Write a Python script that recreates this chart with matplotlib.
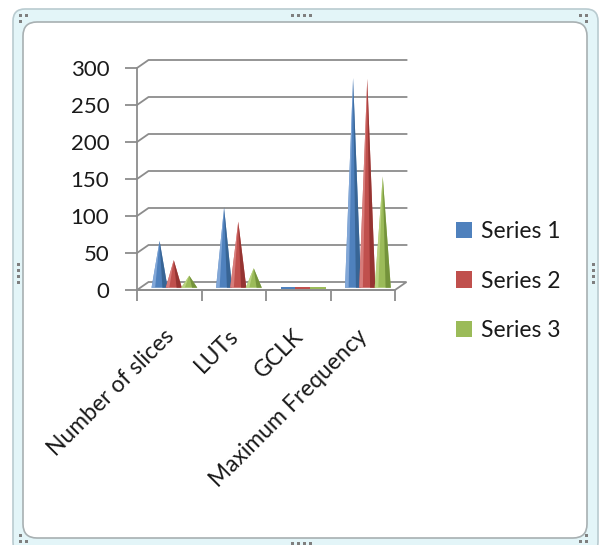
import matplotlib
matplotlib.use("Agg")
import matplotlib.pyplot as plt
from matplotlib.patches import FancyBboxPatch, Polygon, Patch
import numpy as np

plt.rcParams['font.family'] = ['Lato', 'DejaVu Sans']

categories = ["Number of slices", "LUTs", "GCLK", "Maximum Frequency"]
series_names = ["Series 1", "Series 2", "Series 3"]
series1 = [61, 106, 2, 281]
series2 = [35, 87, 2, 280]
series3 = [14, 24, 2, 148]
yticks = [0, 50, 100, 150, 200, 250, 300]

values = [series1, series2, series3]
colors = ["#4F81BD", "#C0504D", "#9BBB59"]
light = ["#8FB1DE", "#DE8886", "#C3DA8C"]
dark = ["#35608F", "#8E302E", "#6E8C36"]

W, H = 603, 545
fig = plt.figure(figsize=(W / 100, H / 100), dpi=100)

# decorative frame (figure pixel coordinates)
bg = fig.add_axes([0, 0, 1, 1])
bg.set_xlim(0, W)
bg.set_ylim(H, 0)
bg.axis("off")
bg.add_patch(FancyBboxPatch((13, 9), 585, 545, boxstyle="round,pad=0,rounding_size=12",
                            fc="#E3F5F8", ec="#B9CBD0", lw=1.2))
bg.add_patch(FancyBboxPatch((23, 22), 564, 516, boxstyle="round,pad=0,rounding_size=14",
                            fc="white", ec="#A8B0B2", lw=1.2))
for (cx, cy) in [(20, 15), (26, 15), (20, 21), (580, 15), (586, 15), (586, 21),
                 (20, 535), (20, 541), (26, 541), (580, 541), (586, 541), (586, 535)]:
    bg.add_patch(plt.Rectangle((cx - 1.5, cy - 1.5), 3, 3, fc="#7F7F7F", ec="none"))
for k in range(4):
    bg.add_patch(plt.Rectangle((292 + 6 * k - 1.5, 15 - 1.5), 3, 3, fc="#7F7F7F", ec="none"))
    bg.add_patch(plt.Rectangle((292 + 6 * k - 1.5, 543 - 1.5), 3, 3, fc="#7F7F7F", ec="none"))
    bg.add_patch(plt.Rectangle((18 - 1.5, 264 + 6 * k - 1.5), 3, 3, fc="#7F7F7F", ec="none"))
    bg.add_patch(plt.Rectangle((593 - 1.5, 264 + 6 * k - 1.5), 3, 3, fc="#7F7F7F", ec="none"))

# main plot axes: front plane x 137..395 px, y 290 (0) .. 68 (300)
x0, x1, ytop, ybot = 137, 395, 68, 290
ax = fig.add_axes([x0 / W, 1 - ybot / H, (x1 - x0) / W, (ybot - ytop) / H])
ax.set_xlim(0, 4)
ax.set_ylim(0, 300)
ax.patch.set_alpha(0)
for s in ["top", "right"]:
    ax.spines[s].set_visible(False)
grid_c = "#8C8C8C"
ax.spines["left"].set_color(grid_c)
ax.spines["bottom"].set_color(grid_c)
ax.spines["left"].set_linewidth(1.3)
ax.spines["bottom"].set_linewidth(1.3)

px_x = (x1 - x0) / 4.0
px_y = (ybot - ytop) / 300.0
DX = 11.5 / px_x
DY = 8.0 / px_y

# back wall gridlines
for v in yticks[1:]:
    ax.plot([0, DX, 4 + DX], [v, v + DY, v + DY], color=grid_c, lw=1.3, clip_on=False, zorder=1)
# floor
floor = Polygon([[0, 0], [4, 0], [4 + DX, DY], [DX, DY]], closed=True, fc="white",
                ec=grid_c, lw=1.3, clip_on=False, zorder=1)
ax.add_patch(floor)

ax.set_yticks(yticks)
ax.set_yticklabels([str(v) for v in yticks])
ax.tick_params(axis="y", length=9, width=1.3, color=grid_c, pad=11, labelsize=16,
               labelcolor="#1A1A1A")
ax.set_xticks(np.arange(0, 5), minor=False)
ax.set_xticklabels([])
ax.tick_params(axis="x", length=8, width=1.3, color=grid_c)

# category labels
for i, name in enumerate(categories):
    ax.text(i + 0.5 + 0.02, -58, name, rotation=45, rotation_mode="anchor",
            ha="right", va="center", fontsize=16.5, color="#1A1A1A", clip_on=False)

# cones
offsets = [0.35, 0.57, 0.81]
hw = 0.125
base = DY * 0.28
for j, vals in enumerate(values):
    for i, v in enumerate(vals):
        cx = i + offsets[j]
        tip = v + DY * 0.5
        if v < 5:
            poly = Polygon([[cx - hw, base - 1.5], [cx + hw, base - 1.5], [cx + hw, base + 1.5],
                            [cx - hw, base + 1.5]], closed=True, fc=colors[j], ec="none",
                           zorder=3 + j, clip_on=False)
            ax.add_patch(poly)
            continue
        ax.add_patch(Polygon([[cx - hw, base], [cx + hw, base], [cx, tip]], closed=True,
                             fc=colors[j], ec="none", zorder=3 + j, clip_on=False))
        ax.add_patch(Polygon([[cx - hw, base], [cx - 0.55 * hw, base], [cx, tip]], closed=True,
                             fc=light[j], ec="none", zorder=3 + j, clip_on=False, alpha=0.8))
        ax.add_patch(Polygon([[cx + 0.35 * hw, base], [cx + hw, base], [cx, tip]], closed=True,
                             fc=dark[j], ec="none", zorder=3 + j, clip_on=False, alpha=0.85))

# legend
handles = [Patch(fc=c, ec="none") for c in colors]
fig.legend(handles, series_names, loc="center left", bbox_to_anchor=(456 / W, 1 - 281 / H),
           frameon=False, fontsize=16.5, handlelength=0.7, handleheight=0.7,
           handletextpad=0.4, labelspacing=1.25, borderpad=0, borderaxespad=0,
           labelcolor="#1A1A1A")

fig.savefig("out.png", dpi=100)
